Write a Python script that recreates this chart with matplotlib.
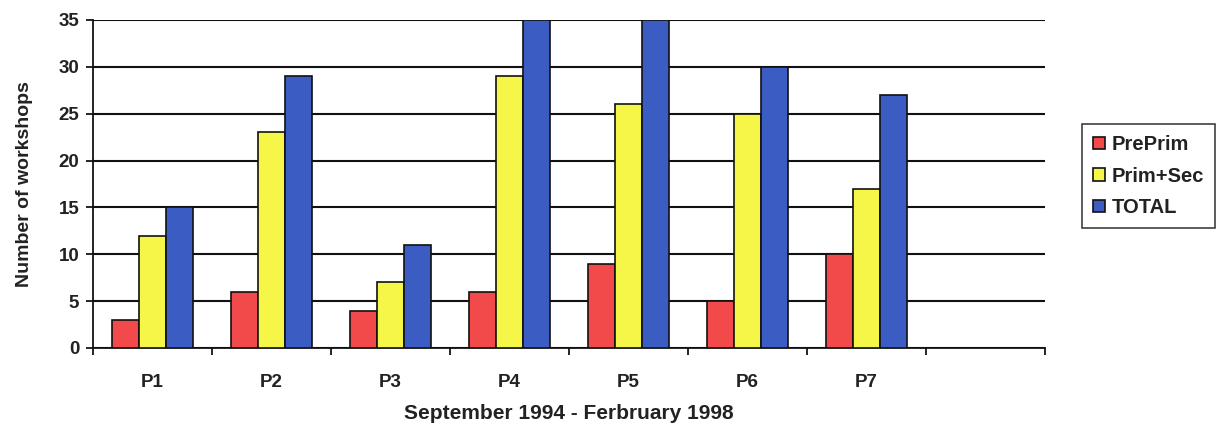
import matplotlib
matplotlib.use("Agg")
import matplotlib.pyplot as plt
import numpy as np

# Data
periods = ["P1", "P2", "P3", "P4", "P5", "P6", "P7"]
n_slots = 8  # the original chart keeps one empty slot on the right
preprim = [3, 6, 4, 6, 9, 5, 10]
prim_sec = [12, 23, 7, 29, 26, 25, 17]
total = [15, 29, 11, 35, 35, 30, 27]

series = [
    ("PrePrim", preprim, "#f24a4a"),
    ("Prim+Sec", prim_sec, "#f6f648"),
    ("TOTAL", total, "#3b5cc2"),
]

plt.rcParams["font.family"] = ["Liberation Sans", "DejaVu Sans"]
plt.rcParams["font.weight"] = "bold"
text_col = "#222222"

fig = plt.figure(figsize=(12.21, 4.30), dpi=100)
ax = fig.add_axes([0.0762, 0.1907, 0.7797, 0.7628])

x = np.arange(len(periods))
w = 0.225
for i, (name, vals, col) in enumerate(series):
    ax.bar(x + (i - 1) * w, vals, width=w, color=col, edgecolor="#111111",
           linewidth=1.2, label=name, zorder=3)

ax.set_xlim(-0.5, n_slots - 0.5)
ax.set_ylim(0, 35)
ax.set_yticks(np.arange(0, 36, 5))
ax.yaxis.grid(True, color="#111111", linewidth=1.5, zorder=0)
ax.set_axisbelow(True)

# ticks at slot boundaries, labels centred in slots
ax.set_xticks(np.arange(-0.5, n_slots, 1.0))
ax.set_xticklabels([])
ax.set_xticks(np.arange(len(periods)), minor=True)
ax.set_xticklabels(periods, minor=True)
ax.tick_params(axis="x", which="minor", length=0, pad=19, labelsize=13.5, labelcolor=text_col)
ax.tick_params(axis="x", which="major", length=5, width=1.2, direction="out")
ax.tick_params(axis="y", length=5, width=1.2, labelsize=13.5, pad=5, labelcolor=text_col)

for spine in ["top", "right"]:
    ax.spines[spine].set_visible(False)
for spine in ["left", "bottom"]:
    ax.spines[spine].set_linewidth(1.3)
    ax.spines[spine].set_color("#111111")

ax.set_ylabel("Number of workshops", fontsize=14, fontweight="bold", color=text_col)
ax.yaxis.set_label_coords(-0.063, 0.5)
ax.set_xlabel("September 1994 - Ferbruary 1998", fontsize=15, fontweight="bold",
              labelpad=9, color=text_col)

leg = ax.legend(loc="center left", bbox_to_anchor=(1.039, 0.524), frameon=True,
                fancybox=False, edgecolor="#111111", fontsize=14.5,
                handlelength=0.6, handleheight=0.6, handletextpad=0.3,
                labelspacing=0.62, borderpad=0.55, borderaxespad=0)
leg.get_frame().set_linewidth(1.2)
for t in leg.get_texts():
    t.set_color(text_col)

fig.savefig("out.png", dpi=100)
